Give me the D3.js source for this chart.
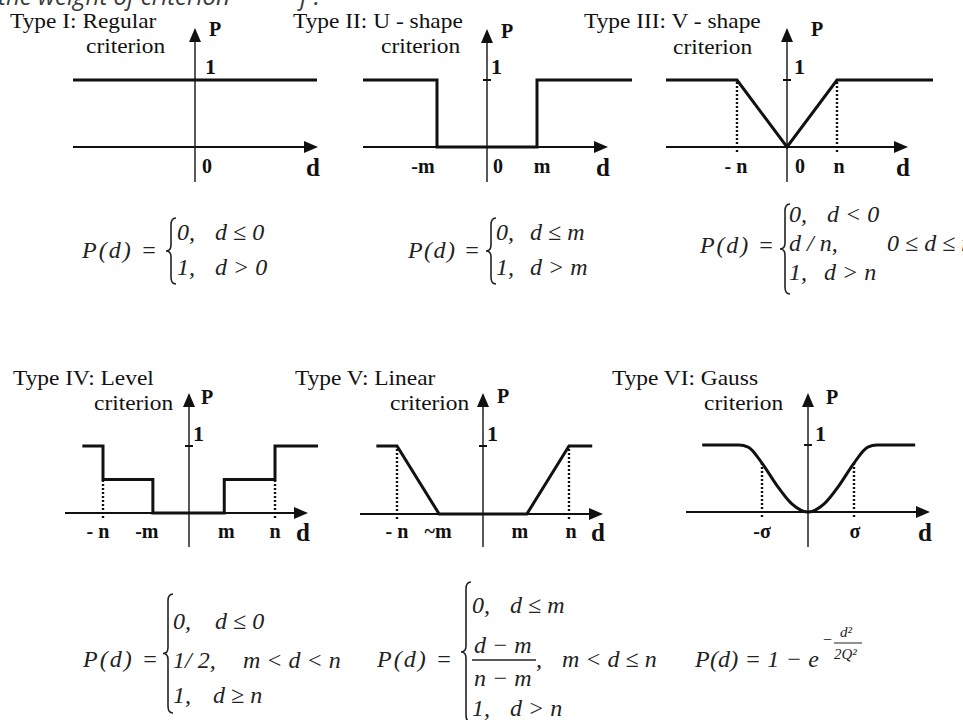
<!doctype html>
<html lang="en">
<head>
  <meta charset="utf-8">
  <title>Preference functions</title>
  <style>
    * { margin: 0; padding: 0; box-sizing: border-box; }
    body { background: #fff; }
    #container { width: 963px; height: 720px; }
    svg { display: block; }
    .serif { font-family: "Liberation Serif", "Times New Roman", serif; fill: #111; }
    .bold { font-weight: bold; }
    .math { font-family: "Liberation Serif", "Times New Roman", serif; font-style: italic; fill: #222; font-size: 24px; }
  </style>
</head>
<body>
  <div id="container"></div>
  <script src="https://cdn.jsdelivr.net/npm/d3@7"></script>
  <script>
    const titles = [
      ['Type I: Regular', 'criterion'],
      ['Type II: U - shape', 'criterion'],
      ['Type III: V - shape', 'criterion'],
      ['Type IV: Level', 'criterion'],
      ['Type V: Linear', 'criterion'],
      ['Type VI: Gauss', 'criterion']
    ];

    // P(d) outlines, d in panel units (m, n or sigma), P from 0 to 1
    const regularPts = [[-2.44, 1], [2.44, 1]];
    const uShapePts = [[-2.48, 1], [-1, 1], [-1, 0], [1, 0], [1, 1], [2.9, 1]];
    const vShapePts = [[-2.42, 1], [-1, 1], [0, 0], [1, 1], [2.92, 1]];
    const levelPts = [[-1.24, 1], [-1, 1], [-1, 0.5], [-0.42, 0.5], [-0.42, 0],
                      [0.41, 0], [0.41, 0.5], [1, 0.5], [1, 1], [1.5, 1]];
    const linearPts = [[-1.24, 1], [-1, 1], [-0.51, 0], [0.51, 0], [1, 1], [1.27, 1]];
    const gaussPts = [[-2.3, 1], [-1.5, 1], [-1.3, 0.97], [-1, 0.73], [-0.67, 0.39], [-0.35, 0.12],
                      [0, 0], [0.35, 0.12], [0.67, 0.39], [1, 0.73], [1.3, 0.97], [1.5, 1], [2.33, 1]];

    // dotted guides: [d, P at top]
    const guidesIII = [[-1, 1], [1, 1]];
    const guidesIV = [[-1, 0.5], [1, 0.5]];
    const guidesV = [[-1, 1], [1, 1]];
    const guidesVI = [[-1, 0.73], [1, 0.73]];

    // tick labels under the d axis
    const ticksI = [[0, '0']];
    const ticksII = [[-1, '-m'], [0, '0'], [1, 'm']];
    const ticksIII = [[-1, '- n'], [0, '0'], [1, 'n']];
    const ticksIV = [[-1, '- n'], [-0.42, '-m'], [0.41, 'm'], [1, 'n']];
    const ticksV = [[-1, '- n'], [-0.51, '~m'], [0.51, 'm'], [1, 'n']];
    const ticksVI = [[-1, '-σ'], [1, 'σ']];

    const curves = [regularPts, uShapePts, vShapePts, levelPts, linearPts, gaussPts];
    const guides = [[], [], guidesIII, guidesIV, guidesV, guidesVI];
    const ticks = [ticksI, ticksII, ticksIII, ticksIV, ticksV, ticksVI];

    const layout = [
      {ax: 195, unit: 50, base: 147, one: 80, top: 28, bot: 182, left: 73, arrow: 318,
       title: [10, 28, 86, 53], p: [209, 36], oneLbl: [205, 74], lblY: 173, dY: 176, dx: [12]},
      {ax: 487, unit: 50, base: 147, one: 80, top: 29, bot: 182, left: 363, arrow: 608,
       title: [293, 28, 381, 53], p: [501, 38], oneLbl: [491, 74], lblY: 173, dY: 176, dx: [-14, 11, 5]},
      {ax: 787, unit: 50, base: 147, one: 80, top: 28, bot: 182, left: 666, arrow: 908,
       title: [584, 28, 673, 54], p: [811, 36], oneLbl: [794, 74], lblY: 173, dY: 176, dx: [-1, 13, 2]},
      {ax: 189, unit: 86, base: 513, one: 446, top: 393, bot: 547, left: 65, arrow: 308,
       title: [13, 385, 94, 410], p: [201, 404], oneLbl: [193, 441], lblY: 538, dY: 541, dx: [-5, -6, 2, 0]},
      {ax: 483, unit: 86, base: 514, one: 446, top: 393, bot: 547, left: 360, arrow: 603,
       title: [295, 385, 390, 410], p: [497, 403], oneLbl: [487, 441], lblY: 538, dY: 541, dx: [0, -1, -7, 2]},
      {ax: 808, unit: 46, base: 512, one: 445, top: 393, bot: 547, left: 686, arrow: 930,
       title: [612, 385, 704, 410], p: [826, 404], oneLbl: [815, 441], lblY: 538, dY: 541, dx: [0, 1]}
    ];

    const svg = d3.select('#container').append('svg')
      .attr('width', 963)
      .attr('height', 720);

    // caption cut by the top edge, as in the source
    svg.append('text')
      .attr('x', -2).attr('y', 5)
      .style('font-family', '"Open Sans", sans-serif')
      .style('font-style', 'italic')
      .style('font-size', '24px')
      .style('fill', '#3a3a3a')
      .text('the weight of criterion');
    svg.append('text')
      .attr('x', 300).attr('y', 5)
      .style('font-family', '"Open Sans", sans-serif')
      .style('font-style', 'italic')
      .style('font-size', '24px')
      .style('fill', '#3a3a3a')
      .text('f  .');

    // scanned titles are a bit wider than tall
    function stretched(x, y, str, size, sx) {
      svg.append('text')
        .attr('class', 'serif')
        .attr('transform', `translate(${x},${y}) scale(${sx},1)`)
        .style('font-size', size + 'px')
        .text(str);
    }

    layout.forEach((L, i) => {
      const x = d3.scaleLinear().domain([0, 1]).range([L.ax, L.ax + L.unit]);
      const y = d3.scaleLinear().domain([0, 1]).range([L.base, L.one]);
      const g = svg.append('g');

      stretched(L.title[0], L.title[1], titles[i][0], 20, 1.17);
      stretched(L.title[2], L.title[3], titles[i][1], 20, 1.17);

      // dotted guides
      g.selectAll('line.guide')
        .data(guides[i])
        .enter().append('line')
        .attr('x1', d => x(d[0])).attr('x2', d => x(d[0]))
        .attr('y1', L.base + 5).attr('y2', d => y(d[1]))
        .attr('stroke', '#111')
        .attr('stroke-width', 2.4)
        .attr('stroke-dasharray', '2,2');

      // d axis
      g.append('line')
        .attr('x1', L.left).attr('x2', L.arrow - 10)
        .attr('y1', L.base).attr('y2', L.base)
        .attr('stroke', '#111').attr('stroke-width', 2.2);
      g.append('path')
        .attr('d', `M${L.arrow},${L.base} L${L.arrow - 14},${L.base - 6} L${L.arrow - 14},${L.base + 6} Z`)
        .attr('fill', '#111');

      // P axis
      g.append('line')
        .attr('x1', L.ax).attr('x2', L.ax)
        .attr('y1', L.bot).attr('y2', L.top + 10)
        .attr('stroke', '#222').attr('stroke-width', 1.5);
      g.append('path')
        .attr('d', `M${L.ax},${L.top} L${L.ax - 6},${L.top + 14} L${L.ax + 6},${L.top + 14} Z`)
        .attr('fill', '#111');
      g.append('line')
        .attr('x1', L.ax - 4).attr('x2', L.ax + 4)
        .attr('y1', y(1)).attr('y2', y(1))
        .attr('stroke', '#111').attr('stroke-width', 2);

      // preference function
      const line = d3.line()
        .x(d => x(d[0]))
        .y(d => y(d[1]))
        .curve(i === 5 ? d3.curveMonotoneX : d3.curveLinear);
      g.append('path')
        .datum(curves[i])
        .attr('d', line)
        .attr('fill', 'none')
        .attr('stroke', '#111')
        .attr('stroke-width', 3)
        .attr('stroke-linejoin', 'miter');

      // labels
      g.append('text').attr('class', 'serif bold')
        .attr('x', L.p[0]).attr('y', L.p[1])
        .style('font-size', '20px').text('P');
      g.append('text').attr('class', 'serif bold')
        .attr('x', L.oneLbl[0]).attr('y', L.oneLbl[1])
        .style('font-size', '22px').text('1');
      g.selectAll('text.tick')
        .data(ticks[i])
        .enter().append('text')
        .attr('class', 'serif bold tick')
        .attr('text-anchor', 'middle')
        .attr('x', (d, j) => x(d[0]) + L.dx[j])
        .attr('y', L.lblY)
        .style('font-size', '20px')
        .text(d => d[1]);
      g.append('text').attr('class', 'serif bold')
        .attr('text-anchor', 'middle')
        .attr('x', L.arrow - 5).attr('y', L.dY)
        .style('font-size', '25px').text('d');
    });

    // formulas
    function math(x, y, str, size) {
      return svg.append('text').attr('class', 'math')
        .attr('x', x).attr('y', y)
        .style('font-size', (size || 24) + 'px')
        .text(str);
    }
    function lhs(x, y, str, len) {
      math(x, y, str).attr('textLength', len).attr('lengthAdjust', 'spacing');
    }
    function brace(x, y0, y1) {
      const w = 10, ym = (y0 + y1) / 2, c = x + w / 2;
      svg.append('path')
        .attr('d', `M${x + w},${y0} Q${c},${y0} ${c},${y0 + 7} L${c},${ym - 6} Q${c},${ym} ${x},${ym}` +
                   ` Q${c},${ym} ${c},${ym + 6} L${c},${y1 - 7} Q${c},${y1} ${x + w},${y1}`)
        .attr('fill', 'none')
        .attr('stroke', '#222')
        .attr('stroke-width', 1.6);
    }
    const PD = 'P(d) =';

    // Type I
    lhs(82, 258, PD, 75);
    brace(166, 218, 284);
    math(177, 240, '0,'); math(215, 240, 'd ≤ 0');
    math(177, 275, '1,'); math(215, 275, 'd > 0');

    // Type II
    lhs(408, 258, PD, 72);
    brace(486, 218, 284);
    math(496, 240, '0,'); math(530, 240, 'd ≤ m');
    math(496, 275, '1,'); math(530, 275, 'd > m');

    // Type III
    lhs(700, 253, PD, 74);
    brace(780, 204, 294);
    math(789, 222, '0,'); math(827, 222, 'd < 0');
    math(789, 251, 'd / n,'); math(887, 251, '0 ≤ d ≤ n');
    math(789, 280, '1,'); math(824, 280, 'd > n');

    // Type IV
    lhs(83, 667, PD, 75);
    brace(163, 594, 713);
    math(173, 629, '0,'); math(215, 629, 'd ≤ 0');
    math(173, 668, '1/ 2,'); math(243, 668, 'm < d < n');
    math(173, 703, '1,'); math(213, 703, 'd ≥ n');

    // Type V
    lhs(377, 667, PD, 75);
    brace(461, 582, 722);
    math(472, 613, '0,'); math(510, 613, 'd ≤ m');
    math(474, 653, 'd − m');
    svg.append('line')
      .attr('x1', 472).attr('x2', 536).attr('y1', 660).attr('y2', 660)
      .attr('stroke', '#222').attr('stroke-width', 1.3);
    math(474, 686, 'n − m');
    math(536, 667, ','); math(562, 667, 'm < d ≤ n');
    math(472, 716, '1,'); math(510, 716, 'd > n');

    // Type VI
    lhs(695, 667, 'P(d) = 1 − e', 124);
    math(822, 645, '−', 16);
    math(840, 637, 'd²', 15);
    svg.append('line')
      .attr('x1', 834).attr('x2', 862).attr('y1', 643).attr('y2', 643)
      .attr('stroke', '#222').attr('stroke-width', 1);
    math(834, 659, '2Q²', 15);
  </script>
</body>
</html>
